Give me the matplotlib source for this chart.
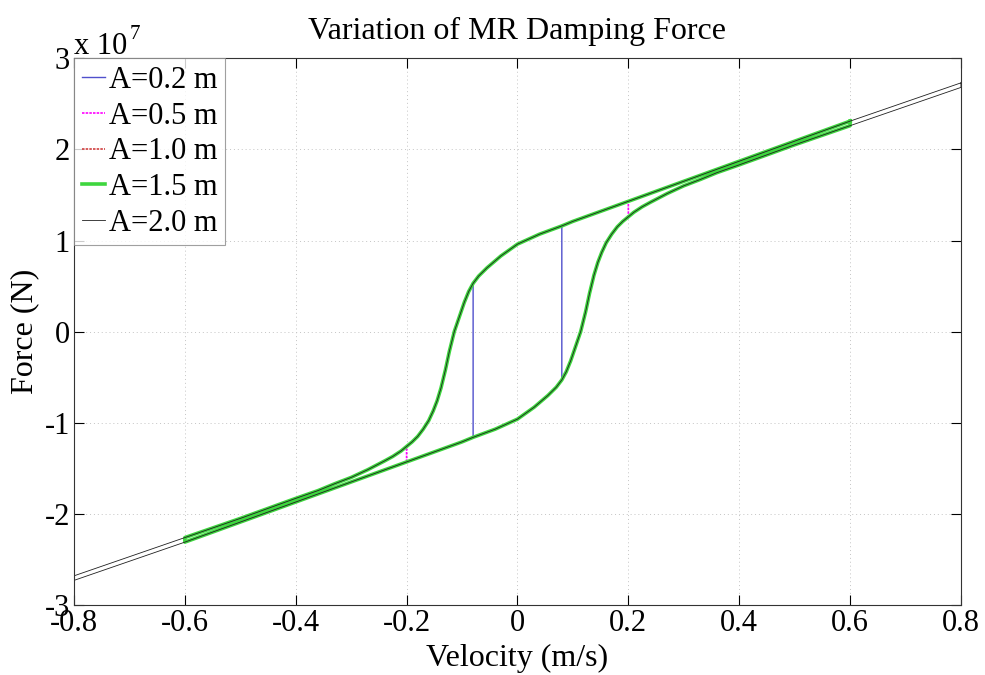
import matplotlib
matplotlib.use('Agg')
import matplotlib.pyplot as plt
import numpy as np

# ---- data ----
labels = ['A=0.2 m', 'A=0.5 m', 'A=1.0 m', 'A=1.5 m', 'A=2.0 m']
peak_velocity = [0.08, 0.2, 0.4, 0.6, 0.8]          # m/s, loop extent for each amplitude

# branch for decreasing velocity (upper branch), force in units of 1e7 N
v_upper = [0.8, 0.7, 0.6, 0.5, 0.4, 0.3, 0.2, 0.15, 0.1, 0.08, 0.04, 0.0, -0.03,
           -0.055, -0.07, -0.08, -0.088, -0.096, -0.105, -0.114, -0.123, -0.13,
           -0.138, -0.145, -0.152, -0.16, -0.17, -0.18, -0.19, -0.2, -0.21, -0.225,
           -0.24, -0.27, -0.3, -0.33, -0.36, -0.4, -0.5, -0.6, -0.7, -0.8]
f_upper = [2.73, 2.52, 2.31, 2.09, 1.87, 1.65, 1.43, 1.32, 1.21, 1.16, 1.07, 0.96, 0.83,
           0.70, 0.61, 0.53, 0.44, 0.32, 0.16, 0.0, -0.22, -0.42,
           -0.62, -0.76, -0.87, -0.975, -1.07, -1.15, -1.21, -1.26, -1.31, -1.37,
           -1.42, -1.515, -1.60, -1.67, -1.745, -1.83, -2.05, -2.26, -2.47, -2.68]

# branch for increasing velocity (lower branch), force in units of 1e7 N
v_lower = [-0.8, -0.7, -0.6, -0.5, -0.4, -0.3, -0.2, -0.15, -0.1, -0.08, -0.04, 0.0, 0.03,
           0.055, 0.07, 0.08, 0.088, 0.096, 0.105, 0.114, 0.123, 0.13,
           0.138, 0.145, 0.152, 0.16, 0.17, 0.18, 0.19, 0.2, 0.21, 0.225,
           0.24, 0.27, 0.3, 0.33, 0.36, 0.4, 0.5, 0.6, 0.7, 0.8]
f_lower = [-2.73, -2.52, -2.31, -2.09, -1.87, -1.65, -1.43, -1.32, -1.21, -1.16, -1.07, -0.96, -0.83,
           -0.70, -0.61, -0.53, -0.44, -0.32, -0.16, 0.0, 0.22, 0.42,
           0.62, 0.76, 0.87, 0.975, 1.07, 1.15, 1.21, 1.26, 1.31, 1.37,
           1.42, 1.515, 1.60, 1.67, 1.745, 1.83, 2.05, 2.26, 2.47, 2.68]

x_ticks = [-0.8, -0.6, -0.4, -0.2, 0, 0.2, 0.4, 0.6, 0.8]
x_ticklabels = ['-0.8', '-0.6', '-0.4', '-0.2', '0', '0.2', '0.4', '0.6', '0.8']
y_ticks = [-3, -2, -1, 0, 1, 2, 3]
y_ticklabels = ['-3', '-2', '-1', '0', '1', '2', '3']

styles = [
    dict(color='#5050cc', lw=1.0, ls='-'),
    dict(color='#ff00ff', lw=1.2, ls=(0, (1.5, 0.7))),
    dict(color='#d04040', lw=1.2, ls=(0, (1.5, 0.7))),
    dict(color='#3ed63e', lw=2.6, ls='-'),
    dict(color='#202020', lw=0.6, ls='-'),
]

plt.rcParams['font.family'] = ['Liberation Serif', 'DejaVu Serif']

fig = plt.figure(figsize=(9.85, 6.75), dpi=100)
ax = fig.add_axes([0.0751, 0.1037, 0.9005, 0.8100])

vu = np.array(v_upper); fu = np.array(f_upper)
vl = np.array(v_lower); fl = np.array(f_lower)
for lab, vm, st in zip(labels, peak_velocity, styles):
    mu = np.abs(vu) <= vm + 1e-9
    ml = np.abs(vl) <= vm + 1e-9
    xs = np.concatenate([vu[mu], vl[ml], vu[mu][:1]])
    ys = np.concatenate([fu[mu], fl[ml], fu[mu][:1]])
    ax.plot(xs, ys, label=lab, solid_joinstyle='round', **st)

ax.set_xlim(-0.8, 0.8)
ax.set_ylim(-3, 3)
ax.set_xticks(x_ticks)
ax.set_xticklabels(x_ticklabels)
ax.set_yticks(y_ticks)
ax.set_yticklabels(y_ticklabels)
ax.tick_params(direction='in', top=True, right=True, length=7, width=0.8,
               labelsize=22, pad=3)
ax.grid(True, ls=(0, (1, 3)), color='#c4c4c4', lw=0.7)
for s in ax.spines.values():
    s.set_color('#333333')
    s.set_linewidth(0.8)

ax.set_title('Variation of MR Damping Force', fontsize=23, pad=14)
ax.set_xlabel('Velocity (m/s)', fontsize=23, labelpad=4)
ax.set_ylabel('Force (N)', fontsize=23, labelpad=4)

ax.text(0.0, 1.007, 'x 10', transform=ax.transAxes, fontsize=22, ha='left', va='baseline')
ax.text(0.063, 1.035, '7', transform=ax.transAxes, fontsize=15, ha='left', va='baseline')

leg = ax.legend(loc='upper left', fontsize=22, frameon=True, fancybox=False,
                borderaxespad=0.0, handlelength=0.75, handletextpad=0.15,
                labelspacing=0.22, borderpad=0.25)
leg.get_frame().set_edgecolor('#888888')
leg.get_frame().set_linewidth(0.8)

fig.savefig('out.png', dpi=100)
